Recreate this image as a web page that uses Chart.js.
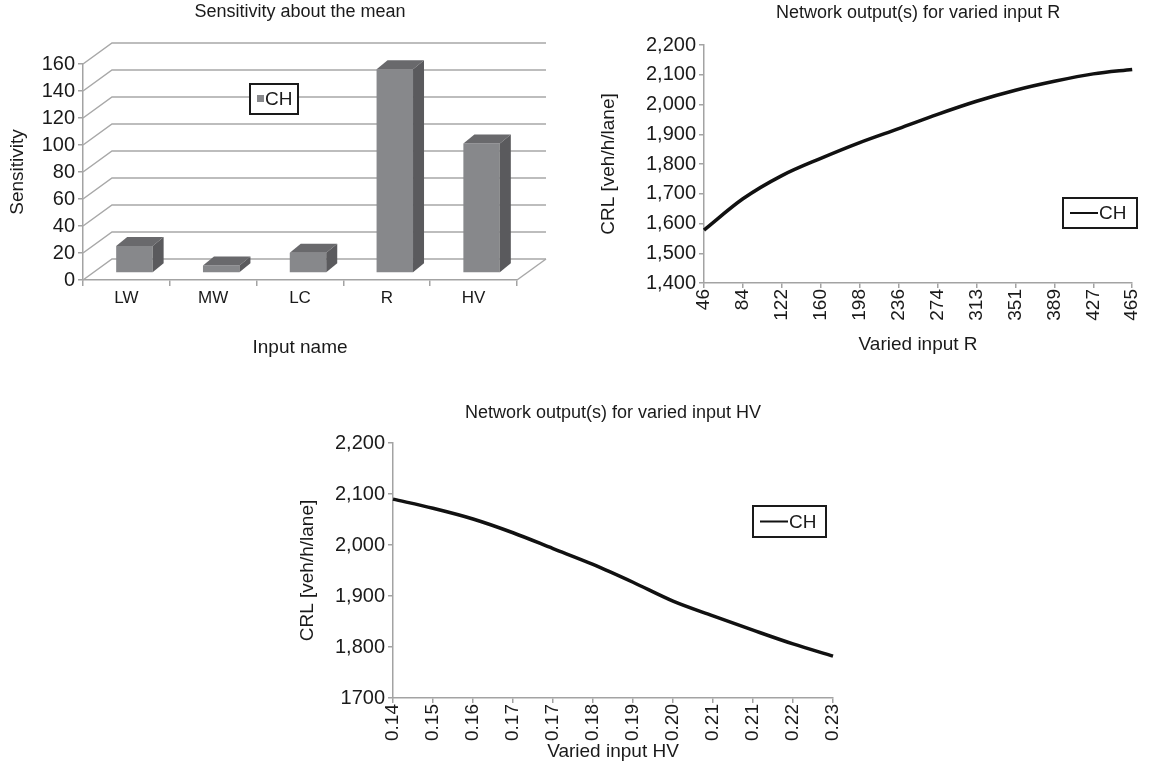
<!DOCTYPE html>
<html>
<head>
<meta charset="utf-8">
<script src="https://cdn.jsdelivr.net/npm/chart.js@4.4.1/dist/chart.umd.min.js"></script>
<style>
  body { margin: 0; background: #fff; }
  #page { position: relative; width: 1156px; height: 765px; overflow: hidden; }
  .box { position: absolute; }
</style>
</head>
<body>
<div id="page">
  <div class="box" style="left:0;top:0;width:575px;height:365px"><canvas id="sensChart"></canvas></div>
  <div class="box" style="left:580px;top:0;width:576px;height:370px"><canvas id="rChart"></canvas></div>
  <div class="box" style="left:290px;top:395px;width:570px;height:370px"><canvas id="hvChart"></canvas></div>
</div>
<script>
// sensitivity about the mean
const inputNames = ['LW', 'MW', 'LC', 'R', 'HV'];
const sensitivity = [20, 5.5, 15, 151, 96];

// output for varied input R
const rLabels = ['46', '84', '122', '160', '198', '236', '274', '313', '351', '389', '427', '465'];
const rOutput = [1578, 1683, 1761, 1819, 1872, 1919, 1967, 2011, 2048, 2078, 2103, 2118];
const rTicks = ['1,400', '1,500', '1,600', '1,700', '1,800', '1,900', '2,000', '2,100', '2,200'];

// output for varied input HV
const hvLabels = ['0.14', '0.15', '0.16', '0.17', '0.17', '0.18', '0.19', '0.20', '0.21', '0.21', '0.22', '0.23'];
const hvOutput = [2090, 2072, 2051, 2024, 1993, 1962, 1927, 1890, 1861, 1833, 1806, 1782];
const hvTicks = ['1700', '1,800', '1,900', '2,000', '2,100', '2,200'];

const FONT = '"Liberation Sans", Arial, sans-serif';
const TEXT = '#1a1a1a';
const AXIS = '#a3a3a3';

Chart.defaults.font.family = FONT;
Chart.defaults.color = TEXT;
Chart.defaults.animation = false;

// back wall + side faces for the pseudo 3D column chart
const depth3d = {
    id: 'depth3d',
    beforeDatasetsDraw(chart, args, o) {
        if (!o.enabled) return;
        const { ctx, chartArea: a, scales: { y } } = chart;
        ctx.save();
        ctx.strokeStyle = o.gridColor;
        ctx.lineWidth = 1.5;
        y.ticks.forEach(t => {
            const py = y.getPixelForValue(t.value);
            ctx.beginPath();
            ctx.moveTo(a.left, py);
            ctx.lineTo(a.left + o.dx, py + o.dy);
            ctx.lineTo(a.right + o.dx, py + o.dy);
            ctx.stroke();
        });
        ctx.beginPath();
        ctx.moveTo(a.right, a.bottom);
        ctx.lineTo(a.right + o.dx, a.bottom + o.dy);
        ctx.stroke();
        ctx.restore();
        ctx.save();
        ctx.translate(o.barDx, o.barDy);
    },
    afterDatasetsDraw(chart, args, o) {
        if (!o.enabled) return;
        const ctx = chart.ctx;
        chart.getDatasetMeta(0).data.forEach(bar => {
            const { x, y, base, width } = bar.getProps(['x', 'y', 'base', 'width'], true);
            const l = x - width / 2, r = x + width / 2;
            ctx.fillStyle = o.topColor;
            ctx.beginPath();
            ctx.moveTo(l, y);
            ctx.lineTo(l + o.bdx, y + o.bdy);
            ctx.lineTo(r + o.bdx, y + o.bdy);
            ctx.lineTo(r, y);
            ctx.closePath();
            ctx.fill();
            ctx.fillStyle = o.sideColor;
            ctx.beginPath();
            ctx.moveTo(r, y);
            ctx.lineTo(r + o.bdx, y + o.bdy);
            ctx.lineTo(r + o.bdx, base + o.bdy);
            ctx.lineTo(r, base);
            ctx.closePath();
            ctx.fill();
        });
        ctx.restore();
    }
};

// framed legend drawn inside the plot
const boxLegend = {
    id: 'boxLegend',
    afterDraw(chart, args, o) {
        if (!o.box) return;
        const ctx = chart.ctx;
        const ds = chart.data.datasets[0];
        const [bx, by, bw, bh] = o.box;
        const cy = by + bh / 2;
        ctx.save();
        ctx.fillStyle = '#fff';
        ctx.fillRect(bx, by, bw, bh);
        ctx.lineWidth = 2;
        ctx.strokeStyle = TEXT;
        ctx.strokeRect(bx, by, bw, bh);
        let tx;
        if (o.kind === 'line') {
            ctx.beginPath();
            ctx.strokeStyle = ds.borderColor;
            ctx.lineWidth = 2;
            ctx.moveTo(bx + 7, cy);
            ctx.lineTo(bx + 35, cy);
            ctx.stroke();
            tx = bx + 36;
        } else {
            ctx.fillStyle = ds.backgroundColor;
            ctx.fillRect(bx + 7, cy - 4, 7, 7);
            tx = bx + 15;
        }
        ctx.fillStyle = TEXT;
        ctx.font = '19px ' + FONT;
        ctx.textBaseline = 'middle';
        ctx.fillText(ds.label, tx, cy + 1);
        ctx.restore();
    }
};

Chart.register(depth3d, boxLegend);

function axisTitle(text, pad) {
    return { display: true, text: text, font: { size: 19 }, color: TEXT, padding: pad || { top: 4, bottom: 4 } };
}

// Sensitivity about the mean (3D-looking columns)
new Chart(document.getElementById('sensChart'), {
    type: 'bar',
    data: {
        labels: inputNames,
        datasets: [{
            label: 'CH',
            data: sensitivity,
            backgroundColor: '#87888b',
            categoryPercentage: 1,
            barPercentage: 0.42,
            clip: false
        }]
    },
    options: {
        responsive: true,
        maintainAspectRatio: false,
        layout: { padding: { left: 2, right: 58, top: 0, bottom: 2 } },
        plugins: {
            legend: { display: false },
            tooltip: { enabled: false },
            title: {
                display: true, text: 'Sensitivity about the mean', fullSize: false,
                font: { size: 18, weight: 'normal' }, color: TEXT,
                padding: { top: 1, bottom: 41.4 }
            },
            depth3d: {
                enabled: true, dx: 29, dy: -21, barDx: 8, barDy: -7, bdx: 11, bdy: -9,
                gridColor: '#a8a8a8', topColor: '#69696c', sideColor: '#5a5a5d'
            },
            boxLegend: { box: [250, 84, 48, 30], kind: 'bar' }
        },
        scales: {
            x: {
                grid: { drawOnChartArea: false, tickLength: 6, color: AXIS, lineWidth: 1.5 },
                border: { color: AXIS, width: 1.5 },
                ticks: { font: { size: 17 }, color: TEXT, padding: 2 },
                title: axisTitle('Input name'),
                afterFit(s) { s.height = 83; }
            },
            y: {
                min: 0, max: 160,
                ticks: { stepSize: 20, font: { size: 20 }, color: TEXT, padding: 3 },
                grid: { drawOnChartArea: false, tickLength: 5, color: AXIS, lineWidth: 1.5 },
                border: { color: AXIS, width: 1.5 },
                title: axisTitle('Sensitivity'),
                afterFit(s) { s.width = 81; }
            }
        }
    }
});

function lineChart(id, labels, values, ticks, min, max, step, title, xTitle, layout, sizes, legendBox) {
    return new Chart(document.getElementById(id), {
        type: 'line',
        data: {
            labels: labels,
            datasets: [{
                label: 'CH',
                data: values,
                borderColor: '#111',
                borderWidth: 3.5,
                pointRadius: 0,
                cubicInterpolationMode: 'monotone',
                fill: false
            }]
        },
        options: {
            responsive: true,
            maintainAspectRatio: false,
            layout: { padding: layout },
            plugins: {
                legend: { display: false },
                tooltip: { enabled: false },
                title: {
                    display: true, text: title, fullSize: false,
                    font: { size: 18, weight: 'normal' }, color: TEXT,
                    padding: sizes.titlePad
                },
                boxLegend: { box: legendBox, kind: 'line' }
            },
            scales: {
                x: {
                    offset: false,
                    grid: { drawOnChartArea: false, tickLength: 5, color: AXIS, lineWidth: 1.5, offset: false },
                    border: { color: AXIS, width: 1.5 },
                    ticks: { autoSkip: false, minRotation: 90, maxRotation: 90, font: { size: 19 }, color: TEXT, padding: 1 },
                    title: axisTitle(xTitle, sizes.xTitlePad),
                    afterFit(s) { s.height = sizes.xHeight; }
                },
                y: {
                    min: min, max: max,
                    ticks: {
                        stepSize: step, font: { size: 20 }, color: TEXT, padding: 3,
                        callback: (v, i) => ticks[i]
                    },
                    grid: { drawOnChartArea: false, tickLength: 5, color: AXIS, lineWidth: 1.5 },
                    border: { color: AXIS, width: 1.5 },
                    title: axisTitle('CRL [veh/h/lane]'),
                    afterFit(s) { s.width = sizes.yWidth; }
                }
            }
        }
    });
}

// Network output(s) for varied input R
lineChart('rChart', rLabels, rOutput, rTicks, 1400, 2200, 100,
    'Network output(s) for varied input R', 'Varied input R',
    { left: 13, right: 11, top: 0, bottom: 10 },
    { titlePad: { top: 2, bottom: 21.4 }, xTitlePad: { top: 4, bottom: 4 }, xHeight: 77, yWidth: 111 },
    [483, 198, 74, 30]);

// Network output(s) for varied input HV
lineChart('hvChart', hvLabels, hvOutput, hvTicks, 1700, 2200, 100,
    'Network output(s) for varied input HV', 'Varied input HV',
    { left: 2, right: 27, top: 0, bottom: 2 },
    { titlePad: { top: 7, bottom: 19.4 }, xTitlePad: { top: 2, bottom: 0 }, xHeight: 65, yWidth: 101 },
    [463, 111, 73, 31]);
</script>
</body>
</html>
